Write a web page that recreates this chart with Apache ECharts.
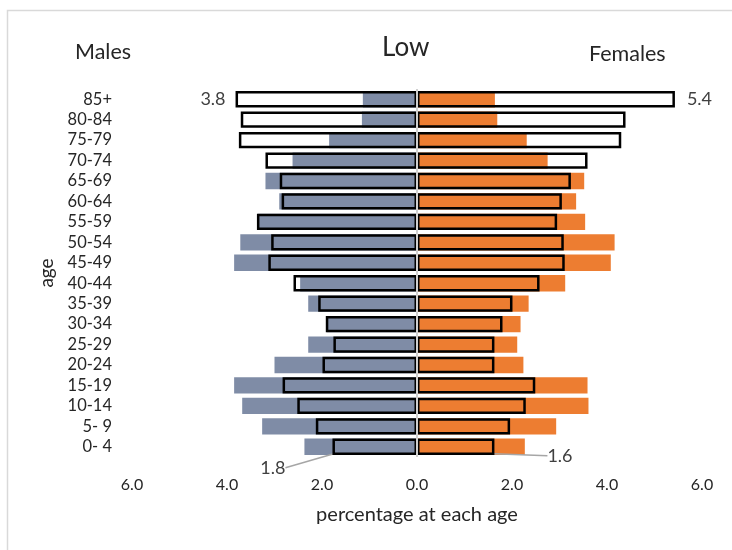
<!DOCTYPE html>
<html>
<head>
<meta charset="utf-8">
<script src="https://cdn.jsdelivr.net/npm/echarts@6/dist/echarts.min.js"></script>
<style>
html,body{margin:0;padding:0;background:#fff;}
#chart{width:732px;height:550px;}
</style>
</head>
<body>
<div id="chart"></div>
<script>
// Age groups, bottom to top
var ageGroups = ['0- 4','5- 9','10-14','15-19','20-24','25-29','30-34','35-39','40-44','45-49','50-54','55-59','60-64','65-69','70-74','75-79','80-84','85+'];
// Filled bars (percent)
var malesFilled   = [2.37,3.26,3.68,3.85,3.00,2.29,1.90,2.29,2.46,3.85,3.72,3.35,2.90,3.19,2.62,1.85,1.16,1.14];
var femalesFilled = [2.27,2.93,3.61,3.59,2.24,2.11,2.18,2.35,3.12,4.08,4.16,3.54,3.35,3.52,2.75,2.31,1.69,1.64];
// Outlined bars (percent)
var malesOutline   = [1.78,2.13,2.52,2.83,1.99,1.76,1.92,2.08,2.60,3.13,3.07,3.37,2.85,2.89,3.19,3.75,3.71,3.82];
var femalesOutline = [1.63,1.96,2.29,2.49,1.63,1.63,1.80,2.01,2.58,3.11,3.09,2.95,3.05,3.24,3.59,4.30,4.39,5.43];
// Which outline bars carry a value label, and which of those use a leader line
var labelledIdx = [0, 17];
var leaderIdx = [0];
var xTicks = {min: -6, max: 6, step: 2};

var FONT = 'Lato, "Open Sans", sans-serif';
var TXT = '#262626';

function neg(a){ return a.map(function(v){ return -v; }); }

function outlineData(arr, sign){
  return arr.map(function(v, i){
    var item = {value: sign * v};
    if (labelledIdx.indexOf(i) >= 0) {
      item.label = {show: true};
      item.labelLine = {show: leaderIdx.indexOf(i) >= 0};
    }
    return item;
  });
}

var chart = echarts.init(document.getElementById('chart'));
chart.setOption({
  animation: false,
  backgroundColor: '#fff',
  textStyle: {fontFamily: FONT},
  graphic: [{
    type: 'rect', left: 5, top: 8, silent: true,
    shape: {width: 800, height: 600},
    style: {fill: 'none', stroke: '#d9d9d9', lineWidth: 1.5}
  }],
  title: [
    {text: 'Low', left: 377, top: 30, textStyle: {fontFamily: FONT, fontSize: 26, fontWeight: 'normal', color: TXT}},
    {text: 'Males', left: 70, top: 36, textStyle: {fontFamily: FONT, fontSize: 21.5, fontWeight: 'normal', color: TXT}},
    {text: 'Females', left: 584, top: 38, textStyle: {fontFamily: FONT, fontSize: 21.5, fontWeight: 'normal', color: TXT}}
  ],
  grid: {left: 132, right: 30, top: 89, bottom: 93, containLabel: false},
  xAxis: {
    type: 'value', min: xTicks.min, max: xTicks.max, interval: xTicks.step,
    axisLine: {show: false}, axisTick: {show: false}, splitLine: {show: false},
    axisLabel: {
      fontFamily: FONT, fontSize: 16, color: TXT, margin: 20,
      formatter: function(v){ return Math.abs(v).toFixed(1); }
    },
    name: 'percentage at each age', nameLocation: 'middle', nameGap: 48,
    nameTextStyle: {fontFamily: FONT, fontSize: 20, color: TXT}
  },
  yAxis: {
    type: 'category', data: ageGroups,
    axisLine: {show: false, onZero: false}, axisTick: {show: false},
    axisLabel: {fontFamily: FONT, fontSize: 16.5, color: TXT, margin: 20, interval: 0},
    name: 'age', nameLocation: 'middle', nameRotate: 90, nameGap: 75,
    nameTextStyle: {fontFamily: FONT, fontSize: 19, color: TXT}
  },
  series: [
    {
      name: 'Males', type: 'bar', data: neg(malesFilled),
      barGap: '-100%', barCategoryGap: '20%',
      itemStyle: {color: '#7F8CA6'}, z: 2
    },
    {
      name: 'Females', type: 'bar', data: femalesFilled,
      barGap: '-100%', barCategoryGap: '20%',
      itemStyle: {color: '#ED7D31'}, z: 2
    },
    {
      name: 'Males outline', type: 'bar', data: outlineData(malesOutline, -1),
      barGap: '-100%', barCategoryGap: '20%',
      itemStyle: {color: 'rgba(0,0,0,0)', borderColor: '#000', borderWidth: 2.5}, z: 3,
      label: {show: false, position: 'left', distance: 10, fontFamily: FONT, fontSize: 18, color: '#404040',
        formatter: function(p){ return Math.abs(p.value).toFixed(1); }},
      labelLine: {show: false, lineStyle: {color: '#a6a6a6', width: 1.5}},
      labelLayout: function(p){
        if (p.dataIndex === 0) return {dx: -37, dy: 21};
        return {};
      }
    },
    {
      name: 'Females outline', type: 'bar', data: outlineData(femalesOutline, 1),
      barGap: '-100%', barCategoryGap: '20%',
      itemStyle: {color: 'rgba(0,0,0,0)', borderColor: '#000', borderWidth: 2.5}, z: 3,
      label: {show: false, position: 'right', distance: 12, fontFamily: FONT, fontSize: 18, color: '#404040',
        formatter: function(p){ return Math.abs(p.value).toFixed(1); }},
      labelLine: {show: false, lineStyle: {color: '#a6a6a6', width: 1.5}},
      labelLayout: function(p){
        if (p.dataIndex === 0) return {dx: 41, dy: 9};
        return {};
      },
      markLine: {
        silent: true, symbol: 'none', label: {show: false}, z: 5,
        lineStyle: {color: '#d0d0d0', width: 2, type: 'solid'},
        data: [{xAxis: 0}]
      }
    }
  ]
});
</script>
</body>
</html>
